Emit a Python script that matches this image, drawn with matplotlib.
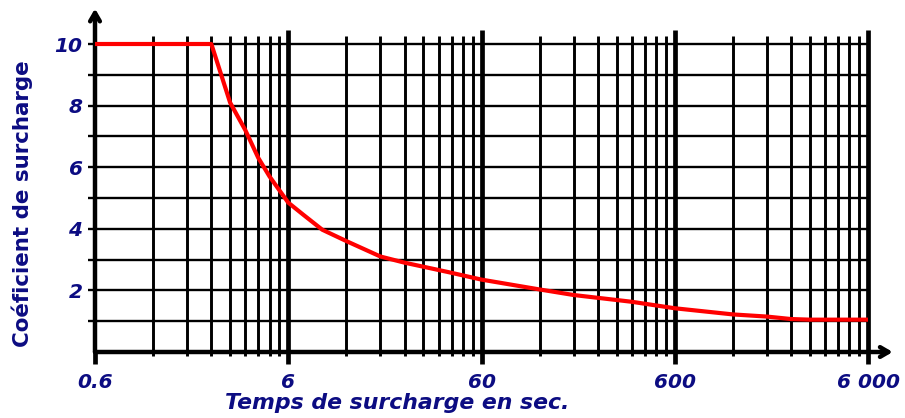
import numpy as np
import matplotlib
matplotlib.use("Agg")
import matplotlib.pyplot as plt

plt.rcParams['font.family'] = ['DejaVu Sans']

# ---- data ----
time_s = [0.6, 2.4, 3.0, 3.6, 4.2, 4.8, 5.4, 6, 7.2, 9, 12, 18, 24, 40, 60, 120, 180,
          360, 600, 1200, 1800, 2400, 3000, 6000]
coef = [10, 10, 8.1, 7.2, 6.3, 5.7, 5.25, 4.85, 4.45, 3.97, 3.6, 3.1, 2.9, 2.6, 2.35, 2.03,
        1.85, 1.63, 1.42, 1.22, 1.15, 1.07, 1.05, 1.05]

x_major = [0.6, 6, 60, 600, 6000]
x_major_labels = ['0.6', '6', '60', '600', '6 000']
minor_mult = [2, 3, 4, 5, 6, 7, 8, 9]
y_grid = [1, 2, 3, 4, 5, 6, 7, 8, 9, 10]
y_ticks = [2, 4, 6, 8, 10]
y_tick_labels = ['2', '4', '6', '8', '10']

xlabel = 'Temps de surcharge en sec.'
ylabel = 'Coéficient de surcharge'

NAVY = '#0c0c82'
W, H = 905, 418
fig = plt.figure(figsize=(W / 100, H / 100), dpi=100)
ax = fig.add_axes([95 / W, 1 - 352 / H, 773 / W, 308 / H])
ax.set_xscale('log')
ax.set_xlim(x_major[0], x_major[-1])
ax.set_ylim(0, 10)
for s in ax.spines.values():
    s.set_visible(False)

# horizontal grid
ax.hlines(y_grid, -0.009, 1, transform=ax.get_yaxis_transform(),
          colors='black', lw=1.7, clip_on=False, zorder=1)
# minor vertical grid
minor_x = [b * m for b in x_major[:-1] for m in minor_mult]
ax.vlines(minor_x, -0.12, 10.25, colors='black', lw=2.1, clip_on=False, zorder=1)
# decade vertical lines
ax.vlines(x_major[1:], -0.38, 10.45, colors='black', lw=3.4, clip_on=False, zorder=2)

# axes with arrows
ax.annotate('', xy=(1.032, 0), xytext=(0, 0), xycoords=ax.get_yaxis_transform(),
            textcoords=ax.get_yaxis_transform(),
            arrowprops=dict(arrowstyle='->,head_length=0.6,head_width=0.35', lw=3.2,
                            color='black', shrinkA=0, shrinkB=0), zorder=3)
ax.vlines([x_major[0]], -0.38, 0, colors='black', lw=3.4, clip_on=False, zorder=3)
ax.annotate('', xy=(x_major[0], 11.15), xytext=(x_major[0], 0),
            arrowprops=dict(arrowstyle='->,head_length=0.6,head_width=0.35', lw=3.2,
                            color='black', shrinkA=0, shrinkB=0), zorder=3,
            annotation_clip=False)

# curve
ax.plot(time_s, coef, color='#ff0000', lw=3.0, zorder=4, clip_on=False,
        solid_capstyle='butt', solid_joinstyle='round')

# ticks
ax.set_xticks(x_major)
ax.set_xticklabels(x_major_labels)
ax.xaxis.set_minor_locator(matplotlib.ticker.NullLocator())
ax.set_yticks(y_ticks)
ax.set_yticklabels(y_tick_labels)
ax.tick_params(axis='x', length=0, pad=15)
ax.tick_params(axis='y', length=0, pad=9)
for lab in ax.get_xticklabels() + ax.get_yticklabels():
    lab.set_fontsize(14.5)
    lab.set_fontweight('bold')
    lab.set_fontstyle('italic')
    lab.set_color(NAVY)

fig.text(397 / W, 1 - 403 / H, xlabel, ha='center', va='center', fontsize=15.8,
         fontweight='bold', fontstyle='italic', color=NAVY)
fig.text(22 / W, 1 - 204 / H, ylabel, ha='center', va='center', rotation=90,
         fontsize=15.4, fontweight='bold', color=NAVY)

fig.savefig('out.png', dpi=100, facecolor='white')
